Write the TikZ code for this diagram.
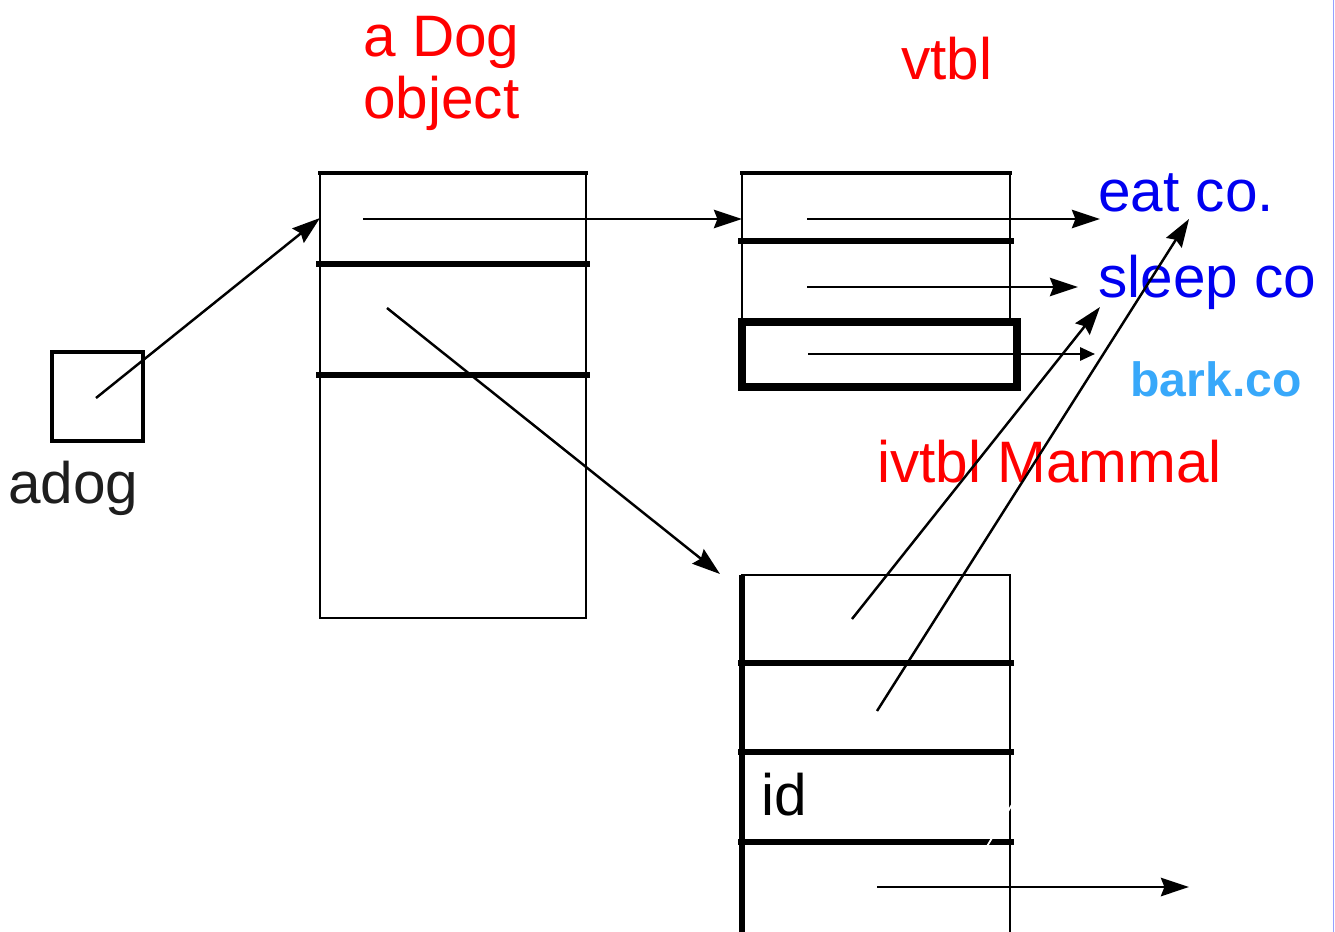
\documentclass[tikz,border=0pt]{standalone}
\usepackage{fontspec}
\setmainfont{Liberation Sans}
\usetikzlibrary{arrows.meta}
\definecolor{lblred}{RGB}{255,0,0}
\definecolor{lblblue}{RGB}{0,0,240}
\definecolor{barkblue}{RGB}{56,168,250}
\definecolor{edgeblue}{RGB}{150,160,255}
\definecolor{inkgray}{RGB}{30,30,30}
\begin{document}
\begin{tikzpicture}[x=0.02cm,y=-0.02cm,
  lbl/.style={font=\fontsize{33.3}{36}\selectfont, inner sep=0pt, anchor=base west},
  boldlbl/.style={font=\fontsize{27.4}{30}\selectfont\bfseries, inner sep=0pt, anchor=base west},
  ptr/.style={line width=1.4pt, -{Stealth[length=16pt,width=10.5pt,inset=2pt]}},
  smallptr/.style={line width=1.3pt, -{Triangle[length=8.5pt,width=7.5pt]}},
  thinline/.style={line width=1.4pt},
  sepline/.style={line width=3.9pt},
  boxnode/.style={draw, inner sep=0pt, outer sep=0pt, anchor=north west},
]
\useasboundingbox (0,0) rectangle (1335,932);

% ---- labels ----
\node[lbl, text=lblred] (dogA) at (363,57) {a Dog};
\node[lbl, text=lblred] (dogB) at (363,119) {object};
\node[lbl, text=lblred] (vtbl) at (901,80) {vtbl};
\node[lbl, text=lblblue] (eat) at (1098,212) {eat co.};
\node[lbl, text=lblblue] (sleep) at (1098,298) {sleep co};
\node[boldlbl, text=barkblue] (bark) at (1130,397) {bark.co};
\node[lbl, text=lblred] (ivtbl) at (877,482) {ivtbl Mammal};
\node[lbl, text=inkgray] (adog) at (8,503) {adog};
\node[lbl, text=black] (idlbl) at (761,815) {id};

% ---- adog box ----
\node[boxnode, line width=2.3pt, minimum width=1.82cm, minimum height=1.78cm] (adogbox) at (52,352) {};

% ---- Dog object ----
\node[boxnode, line width=1.4pt, minimum width=5.32cm, minimum height=8.9cm] (dogobj) at (320,173) {};
\draw[line width=2.6pt] (318,173) -- (588,173);
\draw[sepline] (316,264) -- (590,264);
\draw[sepline] (316,375) -- (590,375);

% ---- vtbl ----
\draw[thinline] (742,330) -- (742,173) -- (1010,173) -- (1010,322);
\draw[line width=2.6pt] (740,173) -- (1012,173);
\draw[sepline] (738,241) -- (1014,241);
\node[boxnode, line width=4.2pt, minimum width=5.5cm, minimum height=1.3cm] (barkslot) at (742,322) {};

% ---- ivtbl Mammal ----
\draw[thinline] (742,932) -- (742,575) -- (1010,575) -- (1010,932);
\draw[line width=3pt] (742,575) -- (742,932);
\draw[sepline] (738,663) -- (1014,663);
\draw[sepline] (738,752) -- (1014,752);
\draw[sepline] (738,842) -- (1014,842);
\draw[white, line width=1pt] (986,848) -- (1013,803);

% ---- right edge ----
\draw[edgeblue, line width=1pt] (1333.5,0) -- (1333.5,932);

% ---- connector ends ----
\coordinate (s1) at (96,398);   \coordinate (e1) at (320,218);
\coordinate (s2) at (363,219);  \coordinate (e2) at (742,219);
\coordinate (s3) at (387,308);  \coordinate (e3) at (720,574);
\coordinate (s4) at (807,219);  \coordinate (e4) at (1100,219);
\coordinate (s5) at (807,287);  \coordinate (e5) at (1078,287);
\coordinate (s6) at (808,354);  \coordinate (e6) at (1095,354);
\coordinate (s7) at (852,619);  \coordinate (e7) at (1100,307);
\coordinate (s8) at (877,711);  \coordinate (e8) at (1189,219);
\coordinate (s9) at (877,887);  \coordinate (e9) at (1189,887);

\draw[ptr] (s1) -- (e1);
\draw[ptr] (s2) -- (e2);
\draw[ptr] (s3) -- (e3);
\draw[ptr] (s4) -- (e4);
\draw[ptr] (s5) -- (e5);
\draw[smallptr] (s6) -- (e6);
\draw[ptr] (s7) -- (e7);
\draw[ptr] (s8) -- (e8);
\draw[ptr] (s9) -- (e9);
\end{tikzpicture}
\end{document}
